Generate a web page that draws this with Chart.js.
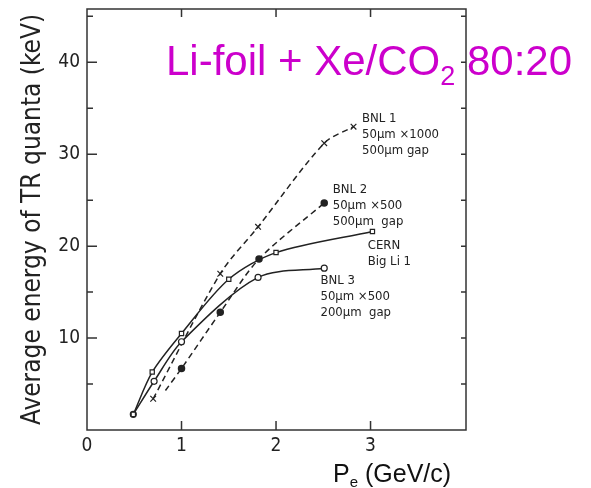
<!DOCTYPE html>
<html>
<head>
<meta charset="utf-8">
<script src="https://cdn.jsdelivr.net/npm/chart.js@4.4.1/dist/chart.umd.min.js"></script>
<style>
  html, body { margin: 0; padding: 0; background: #fff; }
  #wrap { width: 591px; height: 488px; }
</style>
</head>
<body>
<div id="wrap"><canvas id="myChart" width="591" height="488"></canvas></div>
<script>
const ctx = document.getElementById('myChart');

// momentum (GeV/c) vs average TR energy (keV)
const cernPts  = [[0.49, 1.7], [0.69, 6.3], [1.0, 10.5], [1.5, 16.4], [2.0, 19.3], [3.02, 21.6]];
const bnl3Pts  = [[0.49, 1.7], [0.71, 5.3], [1.0, 9.6], [1.81, 16.6], [2.51, 17.6]];
const bnl2Pts  = [[0.83, 4.3], [1.0, 6.7], [1.41, 12.8], [1.82, 18.6], [2.51, 24.7]];
const bnl1Pts  = [[0.70, 3.4], [1.41, 17.0], [1.81, 22.1], [2.51, 31.2], [2.82, 33.0]];

const xTicks = [0, 1, 2, 3];
const yTicks = [10, 20, 30, 40];

// curve labels: anchor point (x, y) and text lines
const curveNotes = [
  { at: [2.91, 33.9], lines: ['BNL 1', '50\u00b5m \u00d71000', '500\u00b5m gap'] },
  { at: [2.60, 26.2], lines: ['BNL 2', '50\u00b5m \u00d7500', '500\u00b5m  gap'] },
  { at: [2.97, 20.1], lines: ['CERN', 'Big Li 1'] },
  { at: [2.47, 16.2], lines: ['BNL 3', '50\u00b5m \u00d7500', '200\u00b5m  gap'] }
];

const ink = '#222';
const condensed = '"DejaVu Sans Condensed", "DejaVu Sans", sans-serif';

function toXY(pts) {
  return pts.map(p => ({ x: p[0], y: p[1] }));
}

// frame with inward ticks, curve notes and the header text
const framePlugin = {
  id: 'frame',
  afterDraw(chart) {
    const c = chart.ctx;
    const a = chart.chartArea;
    const xs = chart.scales.x, ys = chart.scales.y;
    c.save();
    c.strokeStyle = '#333';
    c.lineWidth = 1.5;
    c.strokeRect(a.left, a.top, a.right - a.left, a.bottom - a.top);

    c.beginPath();
    for (let v = 5; v < ys.max; v += 5) {
      const py = ys.getPixelForValue(v);
      const len = v % 10 === 0 ? 10 : 6;
      c.moveTo(a.left, py); c.lineTo(a.left + len, py);
      c.moveTo(a.right, py); c.lineTo(a.right - 5, py);
    }
    for (let v = 1; v <= 3; v++) {
      const px = xs.getPixelForValue(v);
      c.moveTo(px, a.bottom); c.lineTo(px, a.bottom - 9);
      c.moveTo(px, a.top); c.lineTo(px, a.top + 8);
    }
    c.stroke();

    c.fillStyle = ink;
    c.font = '13px ' + condensed;
    c.textAlign = 'left';
    c.textBaseline = 'middle';
    curveNotes.forEach(n => {
      const px = xs.getPixelForValue(n.at[0]);
      const py = ys.getPixelForValue(n.at[1]);
      n.lines.forEach((t, i) => c.fillText(t, px, py + i * 16));
    });

    // x axis title with subscript
    c.fillStyle = '#111';
    c.textBaseline = 'alphabetic';
    let x = 333, base = 482;
    c.font = '25px "Liberation Sans", Arial, sans-serif';
    c.fillText('P', x, base); x += c.measureText('P').width;
    c.font = '15px "Liberation Sans", Arial, sans-serif';
    c.fillText('e', x, base + 5); x += c.measureText('e').width;
    c.font = '25px "Liberation Sans", Arial, sans-serif';
    c.fillText(' (GeV/c)', x, base);

    // header
    c.fillStyle = 'rgb(204, 0, 204)';
    x = 166; base = 75;
    c.font = '42px "Liberation Sans", Arial, sans-serif';
    c.fillText('Li-foil + Xe/CO', x, base); x += c.measureText('Li-foil + Xe/CO').width;
    c.font = '27px "Liberation Sans", Arial, sans-serif';
    c.fillText('2', x, base + 10); x += c.measureText('2').width;
    c.font = '42px "Liberation Sans", Arial, sans-serif';
    c.fillText(' 80:20', x, base);
    c.restore();
  }
};

const solid = { borderColor: ink, borderWidth: 1.5, tension: 0.3, fill: false };
const dashed = Object.assign({}, solid, { borderDash: [6, 4] });

const myChart = new Chart(ctx, {
  type: 'line',
  data: {
    datasets: [
      Object.assign({ label: 'CERN', data: toXY(cernPts), pointStyle: 'rect', pointRadius: 3,
        pointBackgroundColor: '#fff', pointBorderColor: ink, pointBorderWidth: 1.2 }, solid),
      Object.assign({ label: 'BNL 3', data: toXY(bnl3Pts), pointStyle: 'circle', pointRadius: 3,
        pointBackgroundColor: '#fff', pointBorderColor: ink, pointBorderWidth: 1.2 }, solid),
      Object.assign({ label: 'BNL 2', data: toXY(bnl2Pts), pointStyle: 'circle',
        pointRadius: bnl2Pts.map((p, i) => i === 0 ? 0 : 3),
        pointBackgroundColor: ink, pointBorderColor: ink }, dashed),
      Object.assign({ label: 'BNL 1', data: toXY(bnl1Pts), pointStyle: 'crossRot', pointRadius: 4,
        pointBorderColor: ink, pointBorderWidth: 1.2 }, dashed)
    ]
  },
  options: {
    responsive: false,
    animation: false,
    layout: { padding: { top: 9, right: 125, left: 0, bottom: 0 } },
    plugins: { legend: { display: false }, tooltip: { enabled: false } },
    scales: {
      x: {
        type: 'linear', min: 0, max: 4.01,
        afterFit: s => { s.height = 58; s.paddingLeft = 0; s.paddingRight = 0; },
        afterBuildTicks: s => { s.ticks = xTicks.map(v => ({ value: v })); },
        grid: { display: false, drawTicks: false },
        border: { display: false },
        ticks: { color: ink, padding: 5, maxRotation: 0, font: { family: condensed, size: 19 } }
      },
      y: {
        type: 'linear', min: 0, max: 45.8,
        afterFit: s => { s.width = 87; s.paddingTop = 0; s.paddingBottom = 0; },
        afterBuildTicks: s => { s.ticks = yTicks.map(v => ({ value: v })); },
        grid: { display: false, drawTicks: false },
        border: { display: false },
        ticks: { color: ink, padding: 7, font: { family: condensed, size: 19 } },
        title: {
          display: true, text: 'Average energy of TR quanta (keV)', color: ink,
          font: { family: condensed, size: 26, lineHeight: 1 }, padding: { top: 20, bottom: 0 }
        }
      }
    }
  },
  plugins: [framePlugin]
});
</script>
</body>
</html>
